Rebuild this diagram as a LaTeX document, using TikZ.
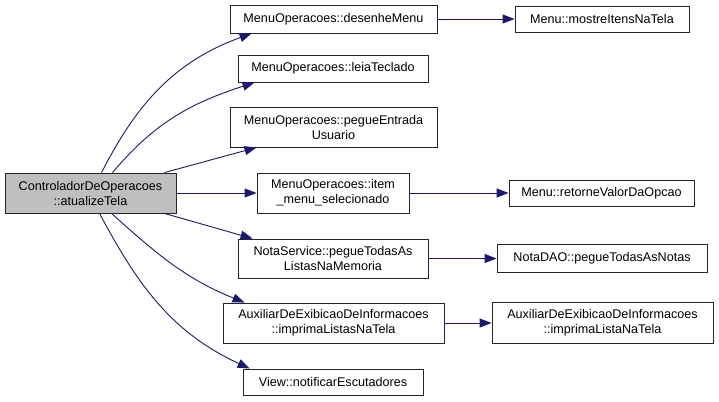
\documentclass[tikz,border=0pt]{standalone}
\usepackage{fontspec}
\setmainfont{Liberation Sans}
\usetikzlibrary{arrows.meta}
\definecolor{edgeblue}{HTML}{191970}

\begin{document}
\begin{tikzpicture}[x=1pt,y=-1pt,
    font=\fontsize{12.6}{15}\selectfont,
    fnbox/.style={draw=black!85,line width=0.9pt,fill=white,align=center,
                  inner sep=0pt},
    rootbox/.style={fnbox,fill=black!25},
    call/.style={draw=edgeblue,line width=0.9pt,
                 -{Triangle[length=12pt,width=9pt,fill=edgeblue]}}]
    \useasboundingbox (0,0) rectangle (719,401);

    \node[rootbox,minimum width=171pt,minimum height=40pt] (atualize) at (90.5,193)
      {ControladorDeOperacoes\\::atualizeTela};

    \node[fnbox,minimum width=207pt,minimum height=28pt] (desenhe) at (333.5,19)
      {MenuOperacoes::desenheMenu};
    \node[fnbox,minimum width=190pt,minimum height=27pt] (leia) at (333,68.5)
      {MenuOperacoes::leiaTeclado};
    \node[fnbox,minimum width=207pt,minimum height=40pt] (entrada) at (333.5,127)
      {MenuOperacoes::pegueEntrada\\Usuario};
    \node[fnbox,minimum width=152pt,minimum height=40pt] (item) at (333,193)
      {MenuOperacoes::item\\\_menu\_selecionado};
    \node[fnbox,minimum width=190pt,minimum height=39pt] (listas) at (333,258.5)
      {NotaService::pegueTodasAs\\ListasNaMemoria};
    \node[fnbox,minimum width=221pt,minimum height=40pt] (imprListas) at (333.5,323)
      {AuxiliarDeExibicaoDeInformacoes\\::imprimaListasNaTela};
    \node[fnbox,minimum width=180pt,minimum height=26pt] (notificar) at (333,382)
      {View::notificarEscutadores};

    \node[fnbox,minimum width=174pt,minimum height=26pt] (mostre) at (602,19)
      {Menu::mostreItensNaTela};
    \node[fnbox,minimum width=185pt,minimum height=26pt] (retorne) at (601.5,193)
      {Menu::retorneValorDaOpcao};
    \node[fnbox,minimum width=210pt,minimum height=28pt] (notas) at (602,258.5)
      {NotaDAO::pegueTodasAsNotas};
    \node[fnbox,minimum width=221pt,minimum height=41pt] (imprLista) at (602.5,323)
      {AuxiliarDeExibicaoDeInformacoes\\::imprimaListaNaTela};

    % calls from the root
    \draw[call] ([xshift=97pt]atualize.north west) to[out=63,in=200]
      ([xshift=22pt]desenhe.south west);
    \draw[call] ([xshift=108pt]atualize.north west) to[out=50,in=198]
      ([xshift=17pt]leia.south west);
    \draw[call] ([xshift=160pt]atualize.north west) -- ([xshift=27pt]entrada.south west);
    \draw[call] (atualize.east) -- (item.west);
    \draw[call] ([xshift=160pt]atualize.south west) -- ([xshift=15pt]listas.north west);
    \draw[call] ([xshift=107pt]atualize.south west) to[out=-42,in=158]
      ([xshift=22pt]imprListas.north west);
    \draw[call] ([xshift=95pt]atualize.south west) to[out=-62,in=155]
      ([xshift=7pt]notificar.north west);

    % second level
    \draw[call] (desenhe.east) -- (mostre.west);
    \draw[call] (item.east) -- (retorne.west);
    \draw[call] (listas.east) -- (notas.west);
    \draw[call] (imprListas.east) -- (imprLista.west);
\end{tikzpicture}
\end{document}
